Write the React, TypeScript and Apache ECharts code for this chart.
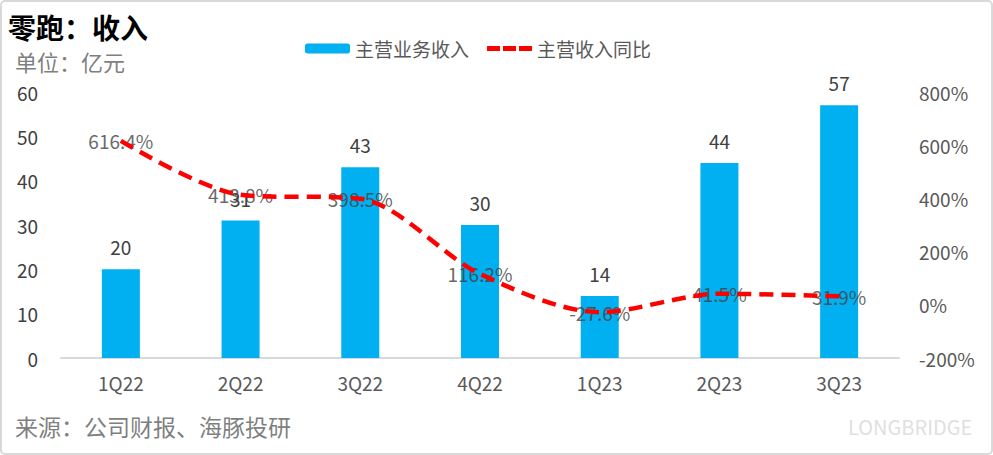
import React, { useEffect, useRef } from "react";
import * as echarts from "echarts";

const categories = ["1Q22", "2Q22", "3Q22", "4Q22", "1Q23", "2Q23", "3Q23"];
const revenue = [20, 31, 43, 30, 14, 44, 57];
const revenueYoY = [616.4, 413.8, 398.5, 116.2, -27.6, 41.5, 31.9];
const leftTicks = { min: 0, max: 60, interval: 10 };
const rightTicks = { min: -200, max: 800, interval: 200 };

const FONT = "'Noto Sans CJK SC', 'Noto Sans', sans-serif";
const DASH_ICON = "path://M0,0h13v5h-13z M16,0h13v5h-13z M32,0h13v5h-13z";

export default function App() {
  const ref = useRef<HTMLDivElement>(null);
  useEffect(() => {
    if (!ref.current) return;
    const chart = echarts.init(ref.current, null, { renderer: "svg" });
    chart.setOption({
      animation: false,
      backgroundColor: "#ffffff",
      textStyle: { fontFamily: FONT },
      graphic: [
        {
          type: "rect",
          shape: { x: 1, y: 1, width: 991, height: 453, r: 4 },
          style: { fill: "none", stroke: "#d9d9d9", lineWidth: 2 },
          silent: true,
        },
        {
          type: "text",
          left: 8,
          top: 13,
          style: { text: "零跑：收入", font: `bold 28px ${FONT}`, fill: "#000000" },
        },
        {
          type: "text",
          left: 15,
          top: 50,
          style: { text: "单位：亿元", font: `22px ${FONT}`, fill: "#7f7f7f" },
        },
        {
          type: "text",
          left: 15,
          top: 414,
          style: { text: "来源：公司财报、海豚投研", font: `23px ${FONT}`, fill: "#7f7f7f" },
        },
        {
          type: "text",
          left: 848,
          top: 416,
          style: { text: "LONGBRIDGE", font: `20px ${FONT}`, fill: "#e0e0e0" },
        },
      ],
      legend: {
        left: 300,
        top: 34,
        itemWidth: 45,
        itemHeight: 10,
        itemGap: 18,
        textStyle: { fontSize: 19, color: "#595959", fontFamily: FONT },
        data: [
          { name: "主营业务收入" },
          { name: "主营收入同比", icon: DASH_ICON, itemStyle: { color: "#FF0000" } },
        ],
      },
      grid: { left: 61, right: 94, top: 92, bottom: 97, containLabel: false },
      xAxis: {
        type: "category",
        data: categories,
        axisLine: { lineStyle: { color: "#d9d9d9", width: 2 } },
        axisTick: { show: false },
        axisLabel: { fontSize: 19, color: "#595959", margin: 15, fontFamily: FONT },
      },
      yAxis: [
        {
          type: "value",
          min: leftTicks.min,
          max: leftTicks.max,
          interval: leftTicks.interval,
          splitLine: { show: false },
          axisLine: { show: false },
          axisTick: { show: false },
          axisLabel: { fontSize: 19, color: "#404040", margin: 23, fontFamily: FONT },
        },
        {
          type: "value",
          min: rightTicks.min,
          max: rightTicks.max,
          interval: rightTicks.interval,
          splitLine: { show: false },
          axisLine: { show: false },
          axisTick: { show: false },
          axisLabel: {
            fontSize: 19,
            color: "#595959",
            margin: 20,
            fontFamily: FONT,
            formatter: "{value}%",
          },
        },
      ],
      series: [
        {
          name: "主营业务收入",
          type: "bar",
          data: revenue,
          barWidth: 38,
          itemStyle: { color: "#00B0F0" },
          label: {
            show: true,
            position: "top",
            distance: 13,
            fontSize: 19,
            color: "#404040",
            fontFamily: FONT,
          },
        },
        {
          name: "主营收入同比",
          type: "line",
          yAxisIndex: 1,
          data: revenueYoY,
          smooth: 0.3,
          symbol: "none",
          lineStyle: { color: "#FF0000", width: 4.5, type: [14, 8] },
          itemStyle: { color: "#FF0000" },
          z: 3,
        },
        {
          name: "yoyLabels",
          type: "scatter",
          yAxisIndex: 1,
          data: revenueYoY,
          symbolSize: 1,
          itemStyle: { color: "rgba(0,0,0,0)" },
          silent: true,
          label: {
            show: true,
            position: "inside",
            fontSize: 19,
            color: "#404040",
            fontFamily: FONT,
            formatter: (p: any) => `${Number(p.value).toFixed(1)}%`,
          },
          z: 2,
        },
      ],
    });
    return () => chart.dispose();
  }, []);
  return (
    <div
      ref={ref}
      style={{ position: "absolute", left: 0, top: 0, width: 993, height: 455 }}
    />
  );
}
